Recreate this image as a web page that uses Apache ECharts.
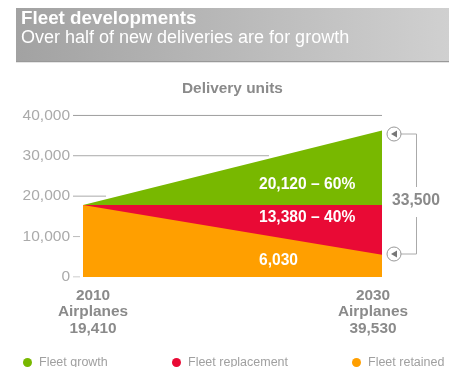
<!DOCTYPE html>
<html>
<head>
<meta charset="utf-8">
<style>html,body{margin:0;padding:0;background:#fff;overflow:hidden}#c{width:449px;height:367px}</style>
<script src="https://cdn.jsdelivr.net/npm/echarts@6/dist/echarts.min.js"></script>
</head>
<body>
<div id="c"></div>
<script>
const years = [2010, 2030];
const fleetRetained = [19410, 6030];
const fleetReplacement = [0, 13380];
const fleetGrowth = [0, 20120];
const yTicks = [0, 10000, 20000, 30000, 40000];
const ruleEndYears = [2009.8, 2009.8, 2011.54, 2022.44, 2030];
const endLabels = ['2010\nAirplanes\n19,410', '2030\nAirplanes\n39,530'];
const shareLabels = ['20,120 – 60%', '13,380 – 40%', '6,030'];
const bracketLabel = '33,500';
const font = '"Liberation Sans", Arial, sans-serif';

const chart = echarts.init(document.getElementById('c'), null, { renderer: 'canvas' });

// Bands are painted back to front, each filled from its cumulative top down to zero.
const retainedTop = fleetRetained;
const replacementTop = retainedTop.map((v, i) => v + fleetReplacement[i]);
const growthTop = replacementTop.map((v, i) => v + fleetGrowth[i]);

const areaSeries = (name, tops, color, z) => ({
  name, type: 'line', yAxisIndex: 1, data: years.map((y, i) => [y, tops[i]]),
  showSymbol: false, silent: true, z,
  lineStyle: { width: 0 }, itemStyle: { color },
  areaStyle: { color, opacity: 1 }
});
// Horizontal rules stop short of the growth wedge, so each one is its own segment.
const ruleColors = ['#bbb', '#bbb', '#aaa', '#aaa', '#8c8c8c'];
const ruleSeries = yTicks.map((v, i) => ({
  type: 'line', data: [[2009.33, v], [ruleEndYears[i], v]], showSymbol: false, silent: true, z: 1,
  lineStyle: { color: ruleColors[i], width: 1 }
}));
const text = (x, y, str, style) => ({
  type: 'text', x, y, silent: true, z: 20,
  style: Object.assign({ text: str, fontFamily: font, fill: '#8a8a8a' }, style)
});
const badge = (cx, cy) => ([
  { type: 'circle', z: 20, silent: true, shape: { cx, cy, r: 7 }, style: { fill: '#fff', stroke: '#999', lineWidth: 1 } },
  { type: 'polygon', z: 21, silent: true, shape: { points: [[cx + 3, cy - 3.5], [cx + 3, cy + 3.5], [cx - 3, cy]] }, style: { fill: '#777' } }
]);
const legendAt = (left, name) => ({
  left, bottom: -2, padding: 0, icon: 'circle', itemWidth: 9, itemHeight: 9,
  selectedMode: false, data: [name],
  textStyle: { fontFamily: font, fontSize: 12.5, color: '#a0a0a0', padding: [0, 0, 0, 2] }
});

chart.setOption({
  animation: false,
  backgroundColor: '#fff',
  grid: { left: 73, right: 67, top: 115.3, bottom: 90 },
  xAxis: { type: 'value', min: 2009.33, max: 2030, show: false },
  yAxis: [
    {
      type: 'value', min: 0, max: 40000, interval: 10000,
      axisLine: { show: false }, axisTick: { show: false }, splitLine: { show: false },
      axisLabel: {
        margin: 3, fontFamily: font, fontSize: 15.5, color: '#aaa',
        formatter: (v) => v.toLocaleString('en-US')
      }
    },
    { type: 'value', min: 0, max: 43600, show: false }
  ],
  legend: [
    legendAt(23, 'Fleet growth'),
    legendAt(172, 'Fleet replacement'),
    legendAt(352, 'Fleet retained')
  ],
  series: [
    ...ruleSeries,
    areaSeries('Fleet growth', growthTop, '#78b800', 3),
    areaSeries('Fleet replacement', replacementTop, '#e90a35', 4),
    areaSeries('Fleet retained', retainedTop, '#ff9f00', 5)
  ],
  graphic: [
    {
      type: 'rect', shape: { x: 16, y: 8, width: 433, height: 54 }, silent: true,
      style: {
        fill: new echarts.graphic.LinearGradient(0, 0, 1, 0, [
          { offset: 0, color: '#a2a2a2' }, { offset: 1, color: '#d0d0d0' }
        ])
      }
    },
    { type: 'rect', shape: { x: 16, y: 61, width: 433, height: 1.2 }, silent: true, style: { fill: '#999' } },
    text(21, 9, 'Fleet developments', { fontSize: 18.8, fontWeight: 'bold', fill: '#fff' }),
    text(21, 29, 'Over half of new deliveries are for growth', { fontSize: 18, fill: '#fff' }),
    text(182, 81, 'Delivery units', { fontSize: 15.4, fontWeight: 'bold', fill: '#8a8a8a' }),
    text(259, 177, shareLabels[0], { fontSize: 15.6, fontWeight: 'bold', fill: '#fff' }),
    text(259, 210, shareLabels[1], { fontSize: 15.6, fontWeight: 'bold', fill: '#fff' }),
    text(259, 253, shareLabels[2], { fontSize: 15.6, fontWeight: 'bold', fill: '#fff' }),
    text(93, 287, endLabels[0], { fontSize: 15.4, fontWeight: 'bold', lineHeight: 16.5, align: 'center' }),
    text(373, 287, endLabels[1], { fontSize: 15.4, fontWeight: 'bold', lineHeight: 16.5, align: 'center' }),
    text(392, 193, bracketLabel, { fontSize: 15.7, fontWeight: 'bold', fill: '#8a8a8a' }),
    { type: 'polyline', z: 20, silent: true, shape: { points: [[401, 134], [416.5, 134], [416.5, 187]] }, style: { fill: null, stroke: '#aaa', lineWidth: 1 } },
    { type: 'polyline', z: 20, silent: true, shape: { points: [[416.5, 217], [416.5, 254], [401, 254]] }, style: { fill: null, stroke: '#aaa', lineWidth: 1 } },
    ...badge(394, 134),
    ...badge(394, 254)
  ]
});
</script>
</body>
</html>
